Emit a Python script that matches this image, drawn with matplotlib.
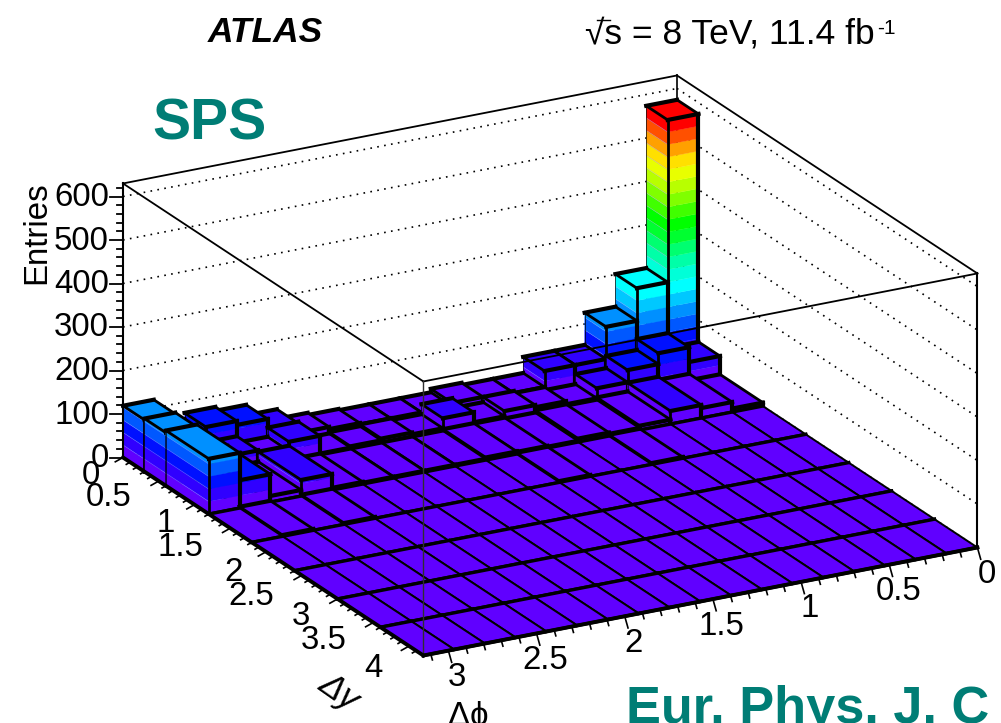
import matplotlib

matplotlib.use("Agg")
import matplotlib.pyplot as plt
import numpy as np
from matplotlib.colors import ListedColormap

plt.rcParams["font.family"] = ["Liberation Sans", "DejaVu Sans"]

# bin edges
dy_edges = [0, 0.3, 0.6, 1.2, 1.8, 2.4, 3.0, 3.6, 4.2]
dphi_edges = np.pi * np.arange(19) / 18

# entries per dphi bin (0 to pi), one list per dy bin
entries_dy0 = [574, 201, 126, 52, 52, 15, 15, 20, 12, 12, 12, 15, 20, 42, 66, 75, 60, 119]
entries_dy1 = [50, 84, 59, 31, 8, 15, 20, 8, 31, 8, 12, 8, 5, 46, 25, 40, 45, 122]
entries_dy2 = [8, 23, 30, 10, 5, 8, 3, 5, 6, 3, 3, 3, 3, 5, 37, 14, 64, 127]
entries_dy3 = [0, 0, 0, 0, 3, 0, 0, 3, 0, 0, 0, 0, 0, 0, 3, 0, 3, 0]
entries_dy4 = [0] * 18
entries_dy5 = [0] * 18
entries_dy6 = [0] * 18
entries_dy7 = [0] * 18
entries = np.array([entries_dy0, entries_dy1, entries_dy2, entries_dy3,
                    entries_dy4, entries_dy5, entries_dy6, entries_dy7], dtype=float)

z_ticks = [0, 100, 200, 300, 400, 500, 600]
dy_ticks = [0, 0.5, 1, 1.5, 2, 2.5, 3, 3.5, 4]
dy_tick_labels = ["0", "0.5", "1", "1.5", "2", "2.5", "3", "3.5", "4"]
dphi_ticks = [0, 0.5, 1, 1.5, 2, 2.5, 3]
dphi_tick_labels = ["0", "0.5", "1", "1.5", "2", "2.5", "3"]

band_colors = ["#6000ff", "#3000ff", "#0010ff", "#0058ff", "#0090ff", "#00c8ff", "#00ffff",
               "#00ffd8", "#00ffa8", "#00ff70", "#00ff30", "#00ff00", "#40ff00", "#80ff00",
               "#b8ff00", "#e8ff00", "#ffe000", "#ffa000", "#ff5000", "#ff0000"]
palette = ListedColormap(band_colors)
band_width = 575 / 20

dy_max = dy_edges[-1]
z_max = 630
teal = "#007d75"

# lego is drawn in picture pixels through an oblique projection
origin = np.array([677.0, 349.5])
dy_vec = np.array([300.4, 198.0]) / dy_max
dphi_vec = np.array([-554.0, 108.0]) / np.pi
z_vec = np.array([0.0, -0.435])


def project(dy, dphi, z=0.0):
    return origin + dy * dy_vec + dphi * dphi_vec + z * z_vec


fig = plt.figure(figsize=(10.01, 7.23), dpi=100)
ax = fig.add_axes([0, 0, 1, 1])
ax.set_xlim(0, 1001)
ax.set_ylim(723, 0)
ax.axis("off")

order = [10]


def line(p, q, lw, color="black", **kw):
    order[0] += 1
    ax.plot([p[0], q[0]], [p[1], q[1]], color=color, lw=lw, zorder=order[0], **kw)


def poly(points, color):
    order[0] += 1
    pts = np.array(points)
    ax.fill(pts[:, 0], pts[:, 1], facecolor=color, edgecolor=color, lw=0.2, zorder=order[0])


def draw_walls():
    for z in z_ticks:
        a, b, c = project(0, np.pi, z), project(0, 0, z), project(dy_max, 0, z)
        line(a, b, 1.2, linestyle=(0, (1, 3.2)))
        line(b, c, 1.2, linestyle=(0, (1, 3.2)))
    line(project(0, 0), project(0, 0, z_max), 1.2)
    line(project(0, np.pi, z_max), project(0, 0, z_max), 1.3)
    line(project(0, 0, z_max), project(dy_max, 0, z_max), 1.3)


def draw_bar(y0, y1, p0, p1, h):
    lw_thick = 3.0 if h > 0 else 2.4
    lw_mid = 2.0 if h > 0 else 1.4
    if h > 0:
        levels = list(np.arange(0, h, band_width)) + [h]
        for k in range(len(levels) - 1):
            color = palette(min(k, 19))
            z0, z1 = levels[k], levels[k + 1]
            poly([project(y0, p1, z0), project(y1, p1, z0), project(y1, p1, z1), project(y0, p1, z1)], color)
            poly([project(y1, p1, z0), project(y1, p0, z0), project(y1, p0, z1), project(y1, p1, z1)], color)
            if k > 0:
                line(project(y0, p1, z0), project(y1, p1, z0), 0.4, color="#a0a0ff", alpha=0.6)
    top = palette(min(int(h // band_width), 19))
    poly([project(y0, p0, h), project(y0, p1, h), project(y1, p1, h), project(y1, p0, h)], top)
    # outline, dy=const edges are the heavy ones
    line(project(y0, p1, h), project(y0, p0, h), lw_thick)
    line(project(y1, p1, h), project(y1, p0, h), lw_thick)
    line(project(y0, p1, h), project(y1, p1, h), lw_mid)
    line(project(y0, p0, h), project(y1, p0, h), lw_mid)
    if h > 0:
        line(project(y1, p1, 0), project(y1, p1, h), lw_mid)
        line(project(y1, p0, 0), project(y1, p0, h), lw_thick)
        line(project(y0, p1, 0), project(y0, p1, h), 0.5)
        line(project(y1, p1, 0), project(y1, p0, 0), 2.4)
        line(project(y0, p1, 0), project(y1, p1, 0), 1.4)


def draw_lego():
    for i in range(len(dy_edges) - 1):
        for j in range(len(dphi_edges) - 1):
            draw_bar(dy_edges[i], dy_edges[i + 1], dphi_edges[j], dphi_edges[j + 1], entries[i, j])


def draw_box():
    front_top = project(dy_max, np.pi, z_max)
    line(project(0, np.pi, z_max), front_top, 1.3)
    line(front_top, project(dy_max, 0, z_max), 1.3)
    line(front_top, project(dy_max, np.pi), 1.0, color="#303030")
    line(project(dy_max, 0, z_max), project(dy_max, 0), 1.5)
    line(project(0, np.pi), project(0, np.pi, z_max), 1.5)
    line(project(0, np.pi), project(dy_max, np.pi), 2.8)
    line(project(dy_max, np.pi), project(dy_max, 0), 2.8)


def draw_axes_ticks():
    # z axis
    for z in np.arange(0, z_max, 20):
        major = z % 100 == 0
        p = project(0, np.pi, z)
        line(p, p + np.array([-13.0 if major else -6.5, 0]), 1.3)
    for z in z_ticks:
        p = project(0, np.pi, z)
        ax.text(p[0] - 14, p[1] + 1, str(z), ha="right", va="center", fontsize=23.8, zorder=5000)
    ax.text(37, 181, "Entries", rotation=90, ha="center", va="top", fontsize=23.8, zorder=5000)

    # dy axis
    for v in np.arange(0, 4.2, 0.1):
        major = abs(v * 2 - round(v * 2)) < 1e-6
        p = project(v, np.pi)
        line(p, p + np.array([-7.7, 4.3]) * (1 if major else 0.5), 1.2)
    for v, label, offset in zip(dy_ticks, dy_tick_labels,
                                [(-32, 18), (-50, 16), (-29, 19), (-50, 19), (-33, 21),
                                 (-51, 21), (-37, 18), (-50, 18), (-36, 22)]):
        p = project(v, np.pi)
        ax.text(p[0] + offset[0], p[1] + offset[1], label, ha="center", va="center", fontsize=23.8, zorder=5000)
    ax.text(339, 692, "\u0394y", rotation=-35, ha="center", va="center", fontsize=25, fontstyle="italic", zorder=5000)

    # dphi axis
    for v in np.arange(0, 3.14, 0.1):
        major = abs(v * 2 - round(v * 2)) < 1e-6
        p = project(dy_max, v)
        line(p, p + np.array([3.3, 11.7]) * (1 if major else 0.5), 1.2)
    for v, label in zip(dphi_ticks, dphi_tick_labels):
        p = project(dy_max, v)
        ax.text(p[0] + 9, p[1] + 27, label, ha="center", va="center", fontsize=23.8, zorder=5000)
    ax.text(468, 716, "\u0394\u03d5", ha="center", va="center", fontsize=23.8, zorder=5000)


def draw_labels():
    ax.text(265, 33, "ATLAS", ha="center", va="center", fontsize=25.5, fontweight="bold", fontstyle="italic")
    ax.text(585, 44, "\u221as = 8 TeV, 11.4 fb", ha="left", va="baseline", fontsize=25.5)
    ax.plot([597, 610], [20, 20], color="black", lw=1.0)
    ax.text(877, 34, "-1", ha="left", va="baseline", fontsize=15)
    ax.text(209, 125, "SPS", ha="center", va="center", color=teal, fontsize=41, fontweight="bold")
    ax.text(626, 723, "Eur. Phys. J. C", ha="left", va="baseline", color=teal, fontsize=37.7, fontweight="bold")


draw_walls()
draw_lego()
draw_box()
draw_axes_ticks()
draw_labels()

fig.savefig("out.png", dpi=100)
